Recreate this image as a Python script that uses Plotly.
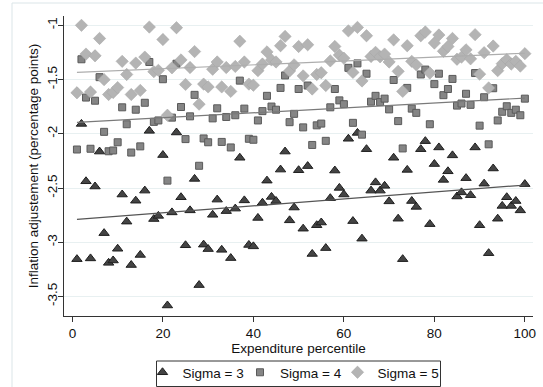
import numpy as np
import plotly.graph_objects as go

percentile = list(range(1, 101))

sigma3 = [-3.156, -1.909, -2.438, -3.149, -2.486, -2.164, -2.916, -3.19, -3.168, -3.06,
          -2.56, -2.81, -3.21, -2.617, -3.117, -2.524, -1.973, -2.786, -2.757, -2.196,
          -3.583, -2.725, -1.988, -2.585, -3.028, -2.706, -2.416, -3.395, -3.022, -3.063,
          -2.747, -2.607, -3.07, -2.713, -3.146, -2.69, -2.221, -2.614, -3.025, -3.038,
          -2.776, -2.636, -2.432, -2.582, -2.62, -2.33, -2.164, -2.798, -2.68, -2.336,
          -2.875, -2.298, -3.108, -2.843, -2.818, -3.054, -2.594, -2.339, -2.499, -2.56,
          -2.046, -2.805, -1.992, -2.967, -2.142, -2.524, -2.448, -2.524, -2.48, -2.623,
          -2.221, -2.783, -3.156, -2.333, -2.62, -2.674, -2.142, -2.068, -2.833, -2.279,
          -2.126, -2.425, -2.346, -2.199, -2.578, -2.54, -2.409, -2.566, -2.126, -2.843,
          -2.46, -3.101, -2.32, -2.783, -2.665, -2.585, -2.665, -2.62, -2.706, -2.464]

sigma4 = [-2.145, -1.313, -1.666, -2.138, -1.695, -1.478, -1.982, -2.161, -2.154, -2.078,
          -1.756, -1.912, -2.173, -1.778, -2.116, -1.714, -1.338, -1.89, -1.877, -1.497,
          -2.432, -1.851, -1.354, -1.753, -2.049, -1.839, -1.641, -2.295, -2.043, -2.078,
          -1.858, -1.765, -2.075, -1.845, -2.126, -1.829, -1.51, -1.768, -2.046, -2.055,
          -1.877, -1.791, -1.65, -1.749, -1.778, -1.577, -1.462, -1.893, -1.816, -1.587,
          -1.941, -1.555, -2.103, -1.922, -1.906, -2.065, -1.756, -1.587, -1.692, -1.727,
          -1.392, -1.899, -1.351, -2.008, -1.446, -1.704, -1.65, -1.708, -1.676, -1.775,
          -1.504, -1.883, -2.135, -1.577, -1.768, -1.807, -1.453, -1.408, -1.912, -1.542,
          -1.446, -1.644, -1.587, -1.494, -1.74, -1.721, -1.631, -1.733, -1.44, -1.925,
          -1.663, -2.097, -1.58, -1.877, -1.797, -1.746, -1.807, -1.778, -1.829, -1.676]

sigma5 = [-1.622, -1.0, -1.265, -1.615, -1.281, -1.121, -1.501, -1.638, -1.619, -1.574,
          -1.332, -1.453, -1.638, -1.348, -1.6, -1.293, -1.016, -1.427, -1.415, -1.131,
          -1.829, -1.392, -1.022, -1.319, -1.545, -1.389, -1.242, -1.727, -1.542, -1.568,
          -1.405, -1.338, -1.568, -1.389, -1.609, -1.379, -1.147, -1.338, -1.542, -1.552,
          -1.418, -1.357, -1.245, -1.319, -1.338, -1.188, -1.102, -1.421, -1.364, -1.195,
          -1.466, -1.179, -1.587, -1.453, -1.437, -1.555, -1.328, -1.195, -1.274, -1.303,
          -1.051, -1.434, -1.019, -1.513, -1.096, -1.287, -1.249, -1.29, -1.265, -1.338,
          -1.134, -1.424, -1.609, -1.188, -1.332, -1.364, -1.096, -1.061, -1.44, -1.163,
          -1.089, -1.239, -1.195, -1.121, -1.313, -1.293, -1.226, -1.309, -1.086, -1.45,
          -1.252, -1.577, -1.191, -1.418, -1.354, -1.316, -1.357, -1.332, -1.376, -1.261]

series_names = ["Sigma = 3", "Sigma = 4", "Sigma = 5"]
x_ticks = [0, 20, 40, 60, 80, 100]
y_ticks = [-3.5, -3, -2.5, -2, -1.5, -1]
y_tick_labels = ["-3.5", "-3", "-2.5", "-2", "-1.5", "-1"]

FONT = "Liberation Sans, Arial, sans-serif"

styles = [
    dict(symbol="triangle-up", size=9, color="#444444", line=dict(color="#1e1e1e", width=1), fit="#555555"),
    dict(symbol="square", size=7, color="#858585", line=dict(color="#5a5a5a", width=1), fit="#7a7a7a"),
    dict(symbol="diamond", size=9.5, color="#b4b4b4", line=dict(color="#a4a4a4", width=0.5), fit="#adadad"),
]

W, H = 543, 387
ml, mr, mt, mb = 64, 10, 16, 71
pw = W - ml - mr
ph = H - mt - mb

def px_x(p):
    return (p - ml) / pw

def px_y(p):
    return 1 - (p - mt) / ph

legend_ids = ["legend", "legend2", "legend3"]
legend_left_px = [142.5, 240, 337.5]

fig = go.Figure()
xs = np.array(percentile, dtype=float)
for name, ys, st, lid in zip(series_names, [sigma3, sigma4, sigma5], styles, legend_ids):
    fig.add_trace(go.Scatter(
        x=percentile, y=ys, mode="markers", name=name, legend=lid,
        marker=dict(symbol=st["symbol"], size=st["size"], color=st["color"], line=st["line"]),
    ))
for ys, st in zip([sigma3, sigma4, sigma5], styles):
    b, a = np.polyfit(xs, np.array(ys), 1)
    fig.add_trace(go.Scatter(
        x=[xs.min(), xs.max()], y=[a + b * xs.min(), a + b * xs.max()],
        mode="lines", showlegend=False, hoverinfo="skip",
        line=dict(color=st["fit"], width=1.2),
    ))

# outer frame of the graph region
fig.add_shape(type="rect", xref="paper", yref="paper",
              x0=px_x(12), x1=px_x(560), y0=px_y(400), y1=px_y(3),
              line=dict(color="#dbe5e8", width=1), fillcolor="rgba(0,0,0,0)", layer="below")
# legend box
fig.add_shape(type="rect", xref="paper", yref="paper",
              x0=px_x(156.5), x1=px_x(440.5), y0=px_y(386.5), y1=px_y(361),
              line=dict(color="#333333", width=1), fillcolor="white", layer="below")

legend_common = dict(orientation="h", xanchor="left", yanchor="top", y=px_y(357),
                     borderwidth=0, bgcolor="rgba(0,0,0,0)", font=dict(size=13.5),
                     itemwidth=30, tracegroupgap=0)

fig.update_layout(
    width=W, height=H,
    margin=dict(l=ml, r=mr, t=mt, b=mb, pad=0, autoexpand=False),
    paper_bgcolor="white", plot_bgcolor="white",
    font=dict(family=FONT, size=13.5, color="#111111"),
    showlegend=True,
    legend=dict(x=px_x(legend_left_px[0]), **legend_common),
    legend2=dict(x=px_x(legend_left_px[1]), **legend_common),
    legend3=dict(x=px_x(legend_left_px[2]), **legend_common),
    xaxis=dict(
        range=[-1.86, 101.8], tickmode="array", tickvals=x_ticks,
        showgrid=False, zeroline=False, showline=True, linecolor="#333333", linewidth=1,
        ticks="outside", ticklen=5, tickcolor="#333333",
        title=dict(text="Expenditure percentile", standoff=2, font=dict(size=13.5)),
    ),
    yaxis=dict(
        range=[-3.68, -0.914], tickmode="array", tickvals=y_ticks, ticktext=y_tick_labels,
        tickangle=-90, ticklabelstandoff=-4,
        showgrid=True, gridcolor="#e8f0f1", gridwidth=1, zeroline=False,
        showline=True, linecolor="#333333", linewidth=1,
        ticks="outside", ticklen=5, tickcolor="#333333",
        title=dict(text="Inflation adjustement (percentage points)", standoff=2, font=dict(size=13.5)),
    ),
)

fig.write_html("out.html", config={"displayModeBar": False},
               post_script="document.body.style.margin='0';document.body.style.overflow='hidden';")
